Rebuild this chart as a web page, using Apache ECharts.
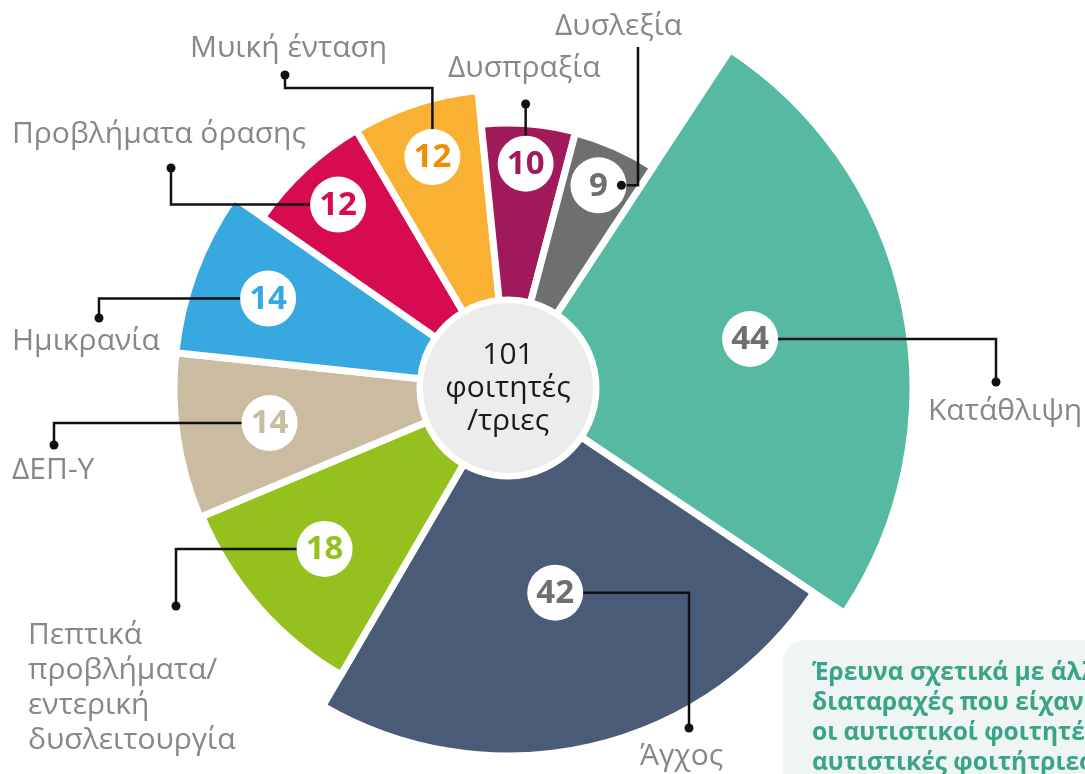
<!DOCTYPE html>
<html>
<head>
<meta charset="utf-8">
<script src="https://cdn.jsdelivr.net/npm/echarts@6/dist/echarts.min.js"></script>
<style>
  html, body { margin: 0; padding: 0; background: #fff; }
  #main { width: 1085px; height: 774px; }
</style>
</head>
<body>
<div id="main"></div>
<script>
// data, clockwise from Κατάθλιψη
const categories = ['Κατάθλιψη', 'Άγχος', 'Πεπτικά προβλήματα/εντερική δυσλειτουργία', 'ΔΕΠ-Υ', 'Ημικρανία',
  'Προβλήματα όρασης', 'Μυική ένταση', 'Δυσπραξία', 'Δυσλεξία'];
const labelLines = ['Κατάθλιψη', 'Άγχος', 'Πεπτικά\nπροβλήματα/\nεντερική\nδυσλειτουργία', 'ΔΕΠ-Υ', 'Ημικρανία',
  'Προβλήματα όρασης', 'Μυική ένταση', 'Δυσπραξία', 'Δυσλεξία'];
const values = [44, 42, 18, 14, 14, 12, 12, 10, 9];
const totalStudents = 101;
const noteLines = ['Έρευνα σχετικά με άλλες', 'διαταραχές που είχαν', 'οι αυτιστικοί φοιτητές/', 'αυτιστικές φοιτήτριες'];

// styling
const colors = ['#56b9a2', '#4a5b78', '#95c11f', '#cbbba0', '#38a8e0', '#d70b52', '#f8b133', '#a0195a', '#6f6f6f'];
const numberColors = ['#6f6f6f', '#6f6f6f', '#95c11f', '#cbbba0', '#38a8e0', '#d70b52', '#ef8c00', '#a0195a', '#6f6f6f'];
const outerRadius = [405, 368, 332, 334, 334, 299, 299, 265, 264];
const labelRadius = [247, 210, 244, 241, 256, 250, 243, 225, 222];
// leader legs from each number bubble: ['x', X] horizontal to X, ['y', Y] vertical to Y
const leaderLegs = [
  [['x', 996], ['y', 382]],
  [['x', 689], ['y', 728]],
  [['x', 176], ['y', 606]],
  [['x', 54], ['y', 445]],
  [['x', 99], ['y', 318]],
  [['x', 171], ['y', 168]],
  [['y', 88], ['x', 285], ['y', 75]],
  [['y', 104]],
  [['x', 638], ['y', 47]]
];
const dotAtStart = [false, false, false, false, false, false, false, false, true];
const textPos = [[928, 394], [640, 739], [28, 618], [12, 453], [12, 324], [12, 117], [190, 31], [448, 51], [555, 9]];

const cx = 508, cy = 388, innerR = 88;
const chart = echarts.init(document.getElementById('main'));

const series = [];
values.forEach((v, k) => {
  series.push({
    type: 'pie',
    center: [cx, cy],
    radius: [innerR, outerRadius[k]],
    startAngle: 56.7,
    clockwise: true,
    silent: true,
    label: { show: false },
    labelLine: { show: false },
    data: values.map((val, i) => ({
      name: categories[i],
      value: val,
      itemStyle: i === k
        ? { color: colors[k], borderColor: '#fff', borderWidth: 7 }
        : { color: 'rgba(0,0,0,0)', borderWidth: 0 }
    }))
  });
});
// centre disc
series.push({
  type: 'pie',
  center: [cx, cy],
  radius: [0, 85],
  silent: true,
  data: [{ value: 1, itemStyle: { color: '#ececec' } }],
  label: {
    show: true,
    position: 'center',
    formatter: totalStudents + '\nφοιτητές\n/τριες',
    fontFamily: 'Open Sans',
    fontSize: 30,
    lineHeight: 33,
    color: '#1a1a1a'
  },
  labelLine: { show: false }
});

chart.setOption({
  animation: false,
  backgroundColor: '#fff',
  series: series
});

// annotations placed from the library's own slice layout
const model = chart.getModel();
const elements = [];
values.forEach((v, k) => {
  const lay = model.getSeriesByIndex(k).getData().getItemLayout(k);
  const mid = (lay.startAngle + lay.endAngle) / 2;
  const px = lay.cx + labelRadius[k] * Math.cos(mid);
  const py = lay.cy + labelRadius[k] * Math.sin(mid);
  const pts = [[px, py]];
  let x = px, y = py;
  leaderLegs[k].forEach(leg => {
    if (leg[0] === 'x') x = leg[1]; else y = leg[1];
    pts.push([x, y]);
  });
  elements.push({
    type: 'polyline', z: 10,
    shape: { points: pts },
    style: { stroke: '#111', lineWidth: 2.5, fill: null }
  });
  const dot = dotAtStart[k] ? [px + 23, py] : pts[pts.length - 1];
  elements.push({
    type: 'circle', z: 13,
    shape: { cx: dot[0], cy: dot[1], r: 4.5 },
    style: { fill: '#111' }
  });
  elements.push({
    type: 'circle', z: 11,
    shape: { cx: px, cy: py, r: 28 },
    style: { fill: '#fff' }
  });
  elements.push({
    type: 'text', z: 12, x: px, y: py + 1,
    style: {
      text: String(v), fill: numberColors[k],
      fontFamily: 'Open Sans', fontWeight: 'bold', fontSize: 33,
      align: 'center', verticalAlign: 'middle'
    }
  });
  elements.push({
    type: 'text', z: 12, x: textPos[k][0], y: textPos[k][1],
    style: {
      text: labelLines[k], fill: '#878787',
      fontFamily: 'Open Sans', fontSize: 30, lineHeight: 35,
      align: 'left', verticalAlign: 'top'
    }
  });
});

// note box, bottom right
elements.push({
  type: 'rect', z: 5,
  shape: { x: 783, y: 640, width: 420, height: 220, r: 22 },
  style: { fill: '#eef5f2' }
});
elements.push({
  type: 'text', z: 6, x: 812, y: 658,
  style: {
    text: noteLines.join('\n'), fill: '#3aa48a',
    fontFamily: 'Open Sans', fontWeight: 'bold', fontSize: 24.5, lineHeight: 30,
    align: 'left', verticalAlign: 'top'
  }
});

chart.setOption({ graphic: { elements: elements } });
</script>
</body>
</html>
